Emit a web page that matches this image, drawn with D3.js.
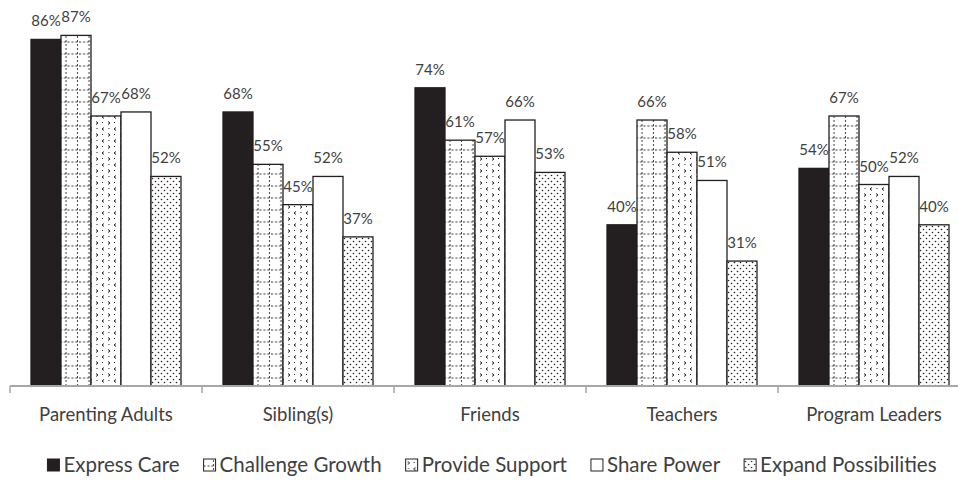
<!DOCTYPE html>
<html>
<head>
<meta charset="utf-8">
<script src="https://cdn.jsdelivr.net/npm/d3@7"></script>
<style>
  html, body { margin: 0; padding: 0; background: #fff; }
  svg { display: block; font-family: Lato, "Open Sans", sans-serif; }
</style>
</head>
<body>
<div id="chart"></div>
<script>
var categories = ["Parenting Adults", "Sibling(s)", "Friends", "Teachers", "Program Leaders"];
var series = ["Express Care", "Challenge Growth", "Provide Support", "Share Power", "Expand Possibilities"];
var expressCare = [86, 68, 74, 40, 54];
var challengeGrowth = [87, 55, 61, 66, 67];
var provideSupport = [67, 45, 57, 58, 50];
var sharePower = [68, 52, 66, 51, 52];
var expandPossibilities = [52, 37, 53, 31, 40];

var seriesValues = [expressCare, challengeGrowth, provideSupport, sharePower, expandPossibilities];
var fills = ["#231f20", "url(#pGrid)", "url(#pChevron)", "#ffffff", "url(#pDots)"];

var width = 958, height = 484;
var ink = "#231f20";
var textColor = "#404040";

var svg = d3.select("#chart").append("svg")
    .attr("width", width)
    .attr("height", height);

// patterns
var defs = svg.append("defs");

var grid = defs.append("pattern")
    .attr("id", "pGrid")
    .attr("patternUnits", "userSpaceOnUse")
    .attr("width", 11.5).attr("height", 12);
grid.append("rect").attr("width", 11.5).attr("height", 12).attr("fill", "#fff");
grid.append("line").attr("x1", 10).attr("x2", 10).attr("y1", 0).attr("y2", 12)
    .attr("stroke", ink).attr("stroke-width", 0.9).attr("stroke-dasharray", "2,2");
grid.append("line").attr("x1", 0).attr("x2", 11.5).attr("y1", 6).attr("y2", 6)
    .attr("stroke", ink).attr("stroke-width", 0.9).attr("stroke-dasharray", "2,2");

var chev = defs.append("pattern")
    .attr("id", "pChevron")
    .attr("patternUnits", "userSpaceOnUse")
    .attr("width", 12).attr("height", 12);
chev.append("rect").attr("width", 12).attr("height", 12).attr("fill", "#fff");
chev.append("path").attr("d", "M2,1.5 L4,3 L2,4.5").attr("fill", "none").attr("stroke", ink).attr("stroke-width", 1);
chev.append("path").attr("d", "M10,7.5 L8,9 L10,10.5").attr("fill", "none").attr("stroke", ink).attr("stroke-width", 1);
chev.append("rect").attr("x", 8).attr("y", 2).attr("width", 1).attr("height", 1).attr("fill", ink);
chev.append("rect").attr("x", 2.5).attr("y", 8).attr("width", 1).attr("height", 1).attr("fill", ink);

var dots = defs.append("pattern")
    .attr("id", "pDots")
    .attr("patternUnits", "userSpaceOnUse")
    .attr("width", 6).attr("height", 6);
dots.append("rect").attr("width", 6).attr("height", 6).attr("fill", "#fff");
dots.append("circle").attr("cx", 1.5).attr("cy", 1.5).attr("r", 0.8).attr("fill", ink);
dots.append("circle").attr("cx", 4.5).attr("cy", 4.5).attr("r", 0.8).attr("fill", ink);

// scales
var x0 = d3.scaleBand()
    .domain(categories)
    .range([10, 970]);

var x1 = d3.scaleBand()
    .domain(series)
    .range([21, 171]);

var y = d3.scaleLinear()
    .domain([0, 100])
    .range([386, -17]);

// bars
var groups = svg.append("g").attr("class", "bars")
    .selectAll("g")
    .data(categories)
    .enter().append("g")
    .attr("transform", function (d) { return "translate(" + x0(d) + ",0)"; });

groups.selectAll("rect")
    .data(function (d, i) {
        return series.map(function (s, j) { return { s: s, j: j, v: seriesValues[j][i] }; });
    })
    .enter().append("rect")
    .attr("x", function (d) { return x1(d.s); })
    .attr("y", function (d) { return y(d.v); })
    .attr("width", x1.bandwidth())
    .attr("height", function (d) { return y(0) - y(d.v); })
    .attr("fill", function (d) { return fills[d.j]; })
    .attr("stroke", ink)
    .attr("stroke-width", 1.3);

groups.selectAll("text")
    .data(function (d, i) {
        return series.map(function (s, j) { return { s: s, j: j, v: seriesValues[j][i] }; });
    })
    .enter().append("text")
    .attr("x", function (d) { return x1(d.s) + x1.bandwidth() / 2; })
    .attr("y", function (d) { return y(d.v) - 13; })
    .attr("text-anchor", "middle")
    .attr("fill", textColor)
    .style("font-size", "15px")
    .text(function (d) { return d.v + "%"; });

// x axis
var axis = svg.append("g").attr("class", "x-axis");
axis.append("line")
    .attr("x1", 10).attr("x2", 970)
    .attr("y1", y(0)).attr("y2", y(0))
    .attr("stroke", "#a6a6a6").attr("stroke-width", 2);
axis.selectAll(".tick")
    .data(categories)
    .enter().append("line")
    .attr("x1", function (d) { return x0(d); })
    .attr("x2", function (d) { return x0(d); })
    .attr("y1", y(0)).attr("y2", y(0) + 7)
    .attr("stroke", "#a6a6a6").attr("stroke-width", 1.5);
axis.selectAll("text")
    .data(categories)
    .enter().append("text")
    .attr("x", function (d) { return x0(d) + x0.bandwidth() / 2; })
    .attr("y", 421)
    .attr("text-anchor", "middle")
    .attr("fill", textColor)
    .style("font-size", "18.5px")
    .text(function (d) { return d; });

// legend
var legend = svg.append("g").attr("class", "legend");
var items = legend.selectAll("g")
    .data(series)
    .enter().append("g");
items.append("rect")
    .attr("x", 0).attr("y", -13)
    .attr("width", 12).attr("height", 12)
    .attr("fill", function (d, i) { return fills[i]; })
    .attr("stroke", ink).attr("stroke-width", 1);
items.append("text")
    .attr("x", 16)
    .attr("y", 0)
    .attr("fill", textColor)
    .style("font-size", "20.5px")
    .text(function (d) { return d; });

var offsets = [];
var total = 0;
items.each(function (d, i) {
    var w = 16 + d3.select(this).select("text").node().getComputedTextLength();
    offsets.push(total);
    total += w + (i < series.length - 1 ? 24 : 0);
});
var startX = 492 - total / 2;
items.attr("transform", function (d, i) { return "translate(" + (startX + offsets[i]) + ",472)"; });
</script>
</body>
</html>
